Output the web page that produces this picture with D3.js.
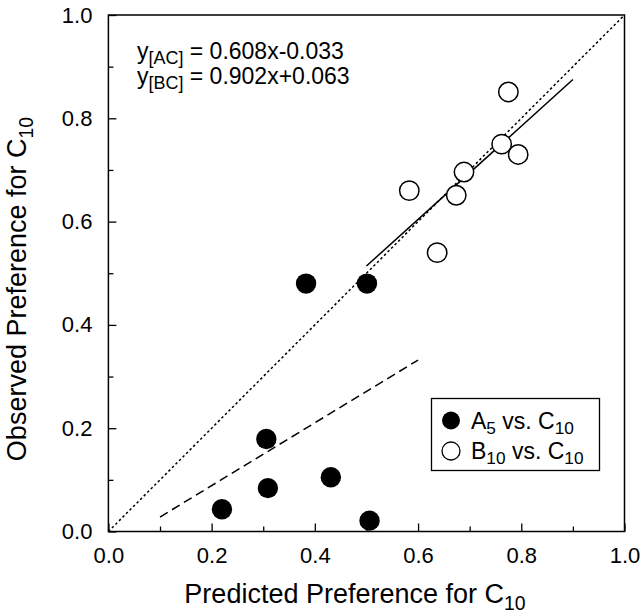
<!DOCTYPE html>
<html><head><meta charset="utf-8">
<script src="https://cdn.jsdelivr.net/npm/d3@7"></script>
<style>
html,body{margin:0;padding:0;background:#fff;}
text{font-family:"Liberation Sans",Arial,Helvetica,sans-serif;fill:#000;}
</style></head>
<body><svg id="c" width="644" height="616"></svg>
<script>
// ---- data ----
const axisTicks = [0, 0.2, 0.4, 0.6, 0.8, 1.0];
const axisTickLabels = ["0.0", "0.2", "0.4", "0.6", "0.8", "1.0"];
const minorTicks = [0.1, 0.3, 0.5, 0.7, 0.9];

// A5 vs. C10 (filled)
const aX = [0.220, 0.306, 0.309, 0.431, 0.506, 0.383, 0.501];
const aY = [0.043, 0.179, 0.084, 0.105, 0.021, 0.480, 0.480];
// B10 vs. C10 (open)
const bX = [0.775, 0.762, 0.794, 0.689, 0.674, 0.583, 0.637];
const bY = [0.851, 0.750, 0.730, 0.696, 0.651, 0.660, 0.540];

// fitted lines (endpoints)
const acFitX = [0.1, 0.6];
const acFitY = [0.028, 0.332];
const bcFitX = [0.5, 0.9];
const bcFitY = [0.514, 0.875];
const diagX = [0, 1];
const diagY = [0, 1];

const eqLabels = [["y", "[AC]", " = 0.608x-0.033"], ["y", "[BC]", " = 0.902x+0.063"]];
const legendLabels = [["A", "5", " vs. C", "10"], ["B", "10", " vs. C", "10"]];

// ---- chart ----
const svg = d3.select("#c");
const L = 108.4, R = 624.5, T = 15, B = 531.5;
const x = d3.scaleLinear().domain([0, 1]).range([L, R]);
const y = d3.scaleLinear().domain([0, 1]).range([B, T]);

const g = svg.append("g");

// box
g.append("rect").attr("x", L).attr("y", T).attr("width", R - L).attr("height", B - T)
  .attr("fill", "none").attr("stroke", "#000").attr("stroke-width", 1.5);

// ticks (inward)
const tickFont = 22;
const xAxis = d3.axisBottom(x).tickValues(axisTicks).tickSizeInner(-8).tickSizeOuter(0)
  .tickFormat((d, i) => axisTickLabels[i]).tickPadding(16);
const gx = g.append("g").attr("transform", `translate(0,${B})`).call(xAxis);
gx.select(".domain").remove();
gx.selectAll("line").attr("stroke", "#000").attr("stroke-width", 1.3);
gx.selectAll("text").attr("font-size", tickFont).attr("font-family", "Liberation Sans, Arial, sans-serif").attr("fill", "#000");

const xMinor = d3.axisBottom(x).tickValues(minorTicks).tickSizeInner(-5).tickSizeOuter(0).tickFormat("");
const gxm = g.append("g").attr("transform", `translate(0,${B})`).call(xMinor);
gxm.select(".domain").remove();
gxm.selectAll("line").attr("stroke", "#000").attr("stroke-width", 1.3);

const yAxis = d3.axisLeft(y).tickValues(axisTicks).tickSizeInner(-8).tickSizeOuter(0)
  .tickFormat((d, i) => axisTickLabels[i]).tickPadding(16);
const gy = g.append("g").attr("transform", `translate(${L},0)`).call(yAxis);
gy.select(".domain").remove();
gy.selectAll("line").attr("stroke", "#000").attr("stroke-width", 1.3);
gy.selectAll("text").attr("font-size", tickFont).attr("font-family", "Liberation Sans, Arial, sans-serif").attr("fill", "#000");

const yMinor = d3.axisLeft(y).tickValues(minorTicks).tickSizeInner(-5).tickSizeOuter(0).tickFormat("");
const gym = g.append("g").attr("transform", `translate(${L},0)`).call(yMinor);
gym.select(".domain").remove();
gym.selectAll("line").attr("stroke", "#000").attr("stroke-width", 1.3);

// lines
const line = d3.line().x(d => x(d[0])).y(d => y(d[1]));
g.append("path").datum(diagX.map((v, i) => [v, diagY[i]])).attr("d", line)
  .attr("fill", "none").attr("stroke", "#000").attr("stroke-width", 1.5).attr("stroke-dasharray", "2.5,2.5");
g.append("path").datum(acFitX.map((v, i) => [v, acFitY[i]])).attr("d", line)
  .attr("fill", "none").attr("stroke", "#000").attr("stroke-width", 1.5).attr("stroke-dasharray", "9,5");
g.append("path").datum(bcFitX.map((v, i) => [v, bcFitY[i]])).attr("d", line)
  .attr("fill", "none").attr("stroke", "#000").attr("stroke-width", 1.5);

// points
const r = 10.2;
g.selectAll("circle.a").data(aX.map((v, i) => [v, aY[i]])).join("circle").attr("class", "a")
  .attr("cx", d => x(d[0])).attr("cy", d => y(d[1])).attr("r", r).attr("fill", "#000");
g.selectAll("circle.b").data(bX.map((v, i) => [v, bY[i]])).join("circle").attr("class", "b")
  .attr("cx", d => x(d[0])).attr("cy", d => y(d[1])).attr("r", r - 0.5)
  .attr("fill", "#fff").attr("stroke", "#000").attr("stroke-width", 1.5);

// equations
const eqFont = 23;
eqLabels.forEach((e, i) => {
  const t = g.append("text").attr("x", 137).attr("y", 59 + i * 25).attr("font-size", eqFont);
  t.append("tspan").text(e[0]);
  t.append("tspan").attr("font-size", eqFont * 0.78).attr("dy", 5).text(e[1]);
  t.append("tspan").attr("dy", -5).text(e[2]);
});

// legend
const lg = g.append("g");
lg.append("rect").attr("x", 431.5).attr("y", 398.5).attr("width", 168).attr("height", 72)
  .attr("fill", "#fff").attr("stroke", "#000").attr("stroke-width", 1.3);
const legFont = 23;
legendLabels.forEach((l, i) => {
  const cy = 420.5 + i * 30.5;
  const c = lg.append("circle").attr("cx", 451).attr("cy", cy).attr("r", 9);
  if (i === 0) c.attr("fill", "#000");
  else c.attr("fill", "#fff").attr("stroke", "#000").attr("stroke-width", 1.3);
  const t = lg.append("text").attr("x", 471).attr("y", cy + 8).attr("font-size", legFont);
  t.append("tspan").text(l[0]);
  t.append("tspan").attr("font-size", legFont * 0.75).attr("dy", 5).text(l[1]);
  t.append("tspan").attr("dy", -5).text(l[2]);
  t.append("tspan").attr("font-size", legFont * 0.75).attr("dy", 5).text(l[3]);
});

// axis titles
const titleFont = 27;
const xt = svg.append("text").attr("x", 355).attr("y", 603).attr("text-anchor", "middle").attr("font-size", titleFont);
xt.append("tspan").text("Predicted Preference for C");
xt.append("tspan").attr("font-size", titleFont * 0.72).attr("dy", 7).text("10");

const yt = svg.append("text").attr("transform", "translate(26,289) rotate(-90)").attr("text-anchor", "middle").attr("font-size", titleFont);
yt.append("tspan").text("Observed Preference for C");
yt.append("tspan").attr("font-size", titleFont * 0.72).attr("dy", 7).text("10");
</script></body></html>
